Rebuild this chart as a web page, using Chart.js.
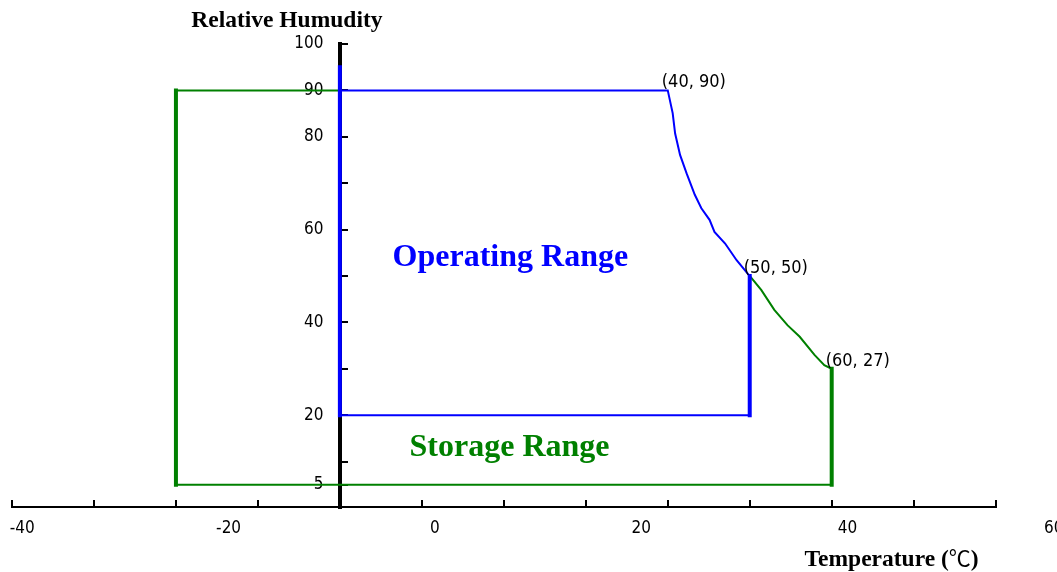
<!DOCTYPE html>
<html><head><meta charset="utf-8">
<script src="https://cdn.jsdelivr.net/npm/chart.js@4/dist/chart.umd.min.js"></script>
<style>html,body{margin:0;padding:0;overflow:hidden;background:#fff}#wrap{width:1100px;height:572px}</style>
</head><body><div id="wrap"><canvas id="c" width="1100" height="572"></canvas></div>
<script>
// ---- data ----
const X_MARKS = [-40, -30, -20, -10, 0, 10, 20, 30, 40, 50, 60, 70, 80];
const X_LABELS = [-40, -20, 0, 20, 40, 60];
const Y_TICKS = [5, 10, 20, 30, 40, 50, 60, 70, 80, 90, 100];
const Y_LABELS = ['5', '', '20', '', '40', '', '60', '', '80', '90', '100'];

const OPERATING_T  = [0, 0, 50, 50, 48.4, 47.0, 45.7, 45.1, 44.1, 43.3, 42.3, 41.5, 40.9, 40.6, 40, 0];
const OPERATING_RH = [95, 20, 20, 50, 53.4, 57.0, 59.5, 62.1, 64.6, 67.5, 72.1, 76.1, 80.7, 85.1, 90, 90];
const STORAGE_T  = [50, 51.4, 53.0, 54.6, 56.1, 57.9, 59.1, 60, 60, -20, -20, 0];
const STORAGE_RH = [50, 47.0, 42.7, 39.4, 36.9, 33.0, 30.8, 30, 5, 5, 90, 90];
const AXIS_T  = [-40, 80];
const AXIS_RH = [0, 0];

const POINT_LABELS = ['(40, 90)', '(50, 50)', '(60, 27)'];
const POINT_T  = [40, 50, 60];
const POINT_RH = [90, 50, 30];
const REGION_LABELS = ['Operating Range', 'Storage Range'];
const REGION_T  = [20.8, 20.7];
const REGION_RH = [54, 13];
const X_TITLE = 'Temperature (℃)';
const Y_TITLE = 'Relative Humudity';

// ---- styles ----
const BLUE = '#0000ff', GREEN = '#008000';
const REGION_COLORS = [BLUE, GREEN];
const TICK_FONT = { family: "'DejaVu Sans Condensed','DejaVu Sans',sans-serif", size: 17 };
const pts = (xs, ys) => xs.map((v, i) => ({ x: v, y: ys[i] }));
const thick = ctx => (ctx.p0.parsed.x === ctx.p1.parsed.x ? 4 : 2);

const textPlugin = {
  id: 'texts',
  afterDatasetsDraw(chart) {
    const { ctx, chartArea } = chart;
    const x = chart.scales.x, y = chart.scales.y;
    ctx.save();
    ctx.fillStyle = '#000';
    ctx.font = "18px 'DejaVu Sans Condensed','DejaVu Sans',sans-serif";
    ctx.textAlign = 'left';
    ctx.textBaseline = 'alphabetic';
    POINT_LABELS.forEach((t, i) => {
      ctx.fillText(t, x.getPixelForValue(POINT_T[i]) - 6, y.getPixelForValue(POINT_RH[i]) - 3);
    });
    ctx.font = "bold 32px 'Liberation Serif','Times New Roman',serif";
    ctx.textAlign = 'center';
    ctx.textBaseline = 'middle';
    REGION_LABELS.forEach((t, i) => {
      ctx.fillStyle = REGION_COLORS[i];
      ctx.fillText(t, x.getPixelForValue(REGION_T[i]), y.getPixelForValue(REGION_RH[i]));
    });
    ctx.fillStyle = '#000';
    const titleFont = "bold 23.5px 'Liberation Serif','Times New Roman',serif";
    ctx.font = titleFont;
    ctx.textBaseline = 'alphabetic';
    ctx.textAlign = 'center';
    ctx.fillText(Y_TITLE, x.getPixelForValue(0) - 53, y.getPixelForValue(100) - 17);
    // x title: symbol drawn in a lighter CJK face, the rest in bold serif
    const k = X_TITLE.indexOf('℃');
    const parts = [[X_TITLE.slice(0, k), titleFont], ['℃', "22px 'Noto Sans CJK SC',sans-serif"], [X_TITLE.slice(k + 1), titleFont]];
    let total = 0;
    parts.forEach(p => { ctx.font = p[1]; total += ctx.measureText(p[0]).width; });
    let cx = x.getPixelForValue(80) - 17 - total;
    ctx.textAlign = 'left';
    parts.forEach(p => { ctx.font = p[1]; ctx.fillText(p[0], cx, chartArea.bottom + 58); cx += ctx.measureText(p[0]).width; });
    ctx.restore();
  }
};

new Chart(document.getElementById('c'), {
  type: 'scatter',
  data: {
    datasets: [
      { label: 'Operating Range', data: pts(OPERATING_T, OPERATING_RH), xAxisID: 'x', yAxisID: 'y',
        showLine: true, pointRadius: 0, borderColor: BLUE, borderWidth: 2,
        borderCapStyle: 'square', borderJoinStyle: 'miter', segment: { borderWidth: thick }, order: 0 },
      { label: 'Storage Range', data: pts(STORAGE_T, STORAGE_RH), xAxisID: 'x', yAxisID: 'y',
        showLine: true, pointRadius: 0, borderColor: GREEN, borderWidth: 2,
        borderCapStyle: 'square', borderJoinStyle: 'miter', segment: { borderWidth: thick }, order: 1 },
      { label: 'axis', data: pts(AXIS_T, AXIS_RH), xAxisID: 'x', yAxisID: 'y',
        showLine: true, pointRadius: 0, borderColor: '#000', borderWidth: 4, order: 2 }
    ]
  },
  options: {
    responsive: false,
    animation: false,
    layout: { padding: { left: 12, top: 44, right: 6, bottom: 0 } },
    plugins: { legend: { display: false }, tooltip: { enabled: false } },
    scales: {
      x: {
        type: 'linear', min: -40, max: 92, position: { y: 0 },
        border: { display: false },
        grid: { drawOnChartArea: false, drawTicks: true, tickLength: -8, color: '#000', lineWidth: 2 },
        ticks: { display: false },
        afterBuildTicks: s => { s.ticks = X_MARKS.map(v => ({ value: v })); }
      },
      x2: {
        type: 'linear', axis: 'x', position: 'bottom', min: -41.0, max: 63.9,
        grid: { display: false }, border: { display: false },
        ticks: { padding: 2, font: TICK_FONT, color: '#000', autoSkip: false, maxRotation: 0 },
        afterBuildTicks: s => { s.ticks = X_LABELS.map(v => ({ value: v })); },
        afterFit: s => { s.height = 64; }
      },
      y: {
        type: 'linear', min: 0, max: 100, position: { x: 0 },
        border: { display: true, color: '#000', width: 4 },
        grid: { drawOnChartArea: false, drawTicks: true, tickLength: -10, color: '#000', lineWidth: 2 },
        ticks: { display: false },
        afterBuildTicks: s => { s.ticks = Y_TICKS.map(v => ({ value: v })); }
      },
      yl: {
        type: 'linear', axis: 'y', min: 0, max: 100, position: { x: -2 },
        border: { display: false }, grid: { display: false },
        ticks: { padding: 0, font: TICK_FONT, color: '#000', autoSkip: false,
                 callback: (v, i) => Y_LABELS[i] },
        afterBuildTicks: s => { s.ticks = Y_TICKS.map(v => ({ value: v })); }
      }
    }
  },
  plugins: [textPlugin]
});
</script>
</body></html>
